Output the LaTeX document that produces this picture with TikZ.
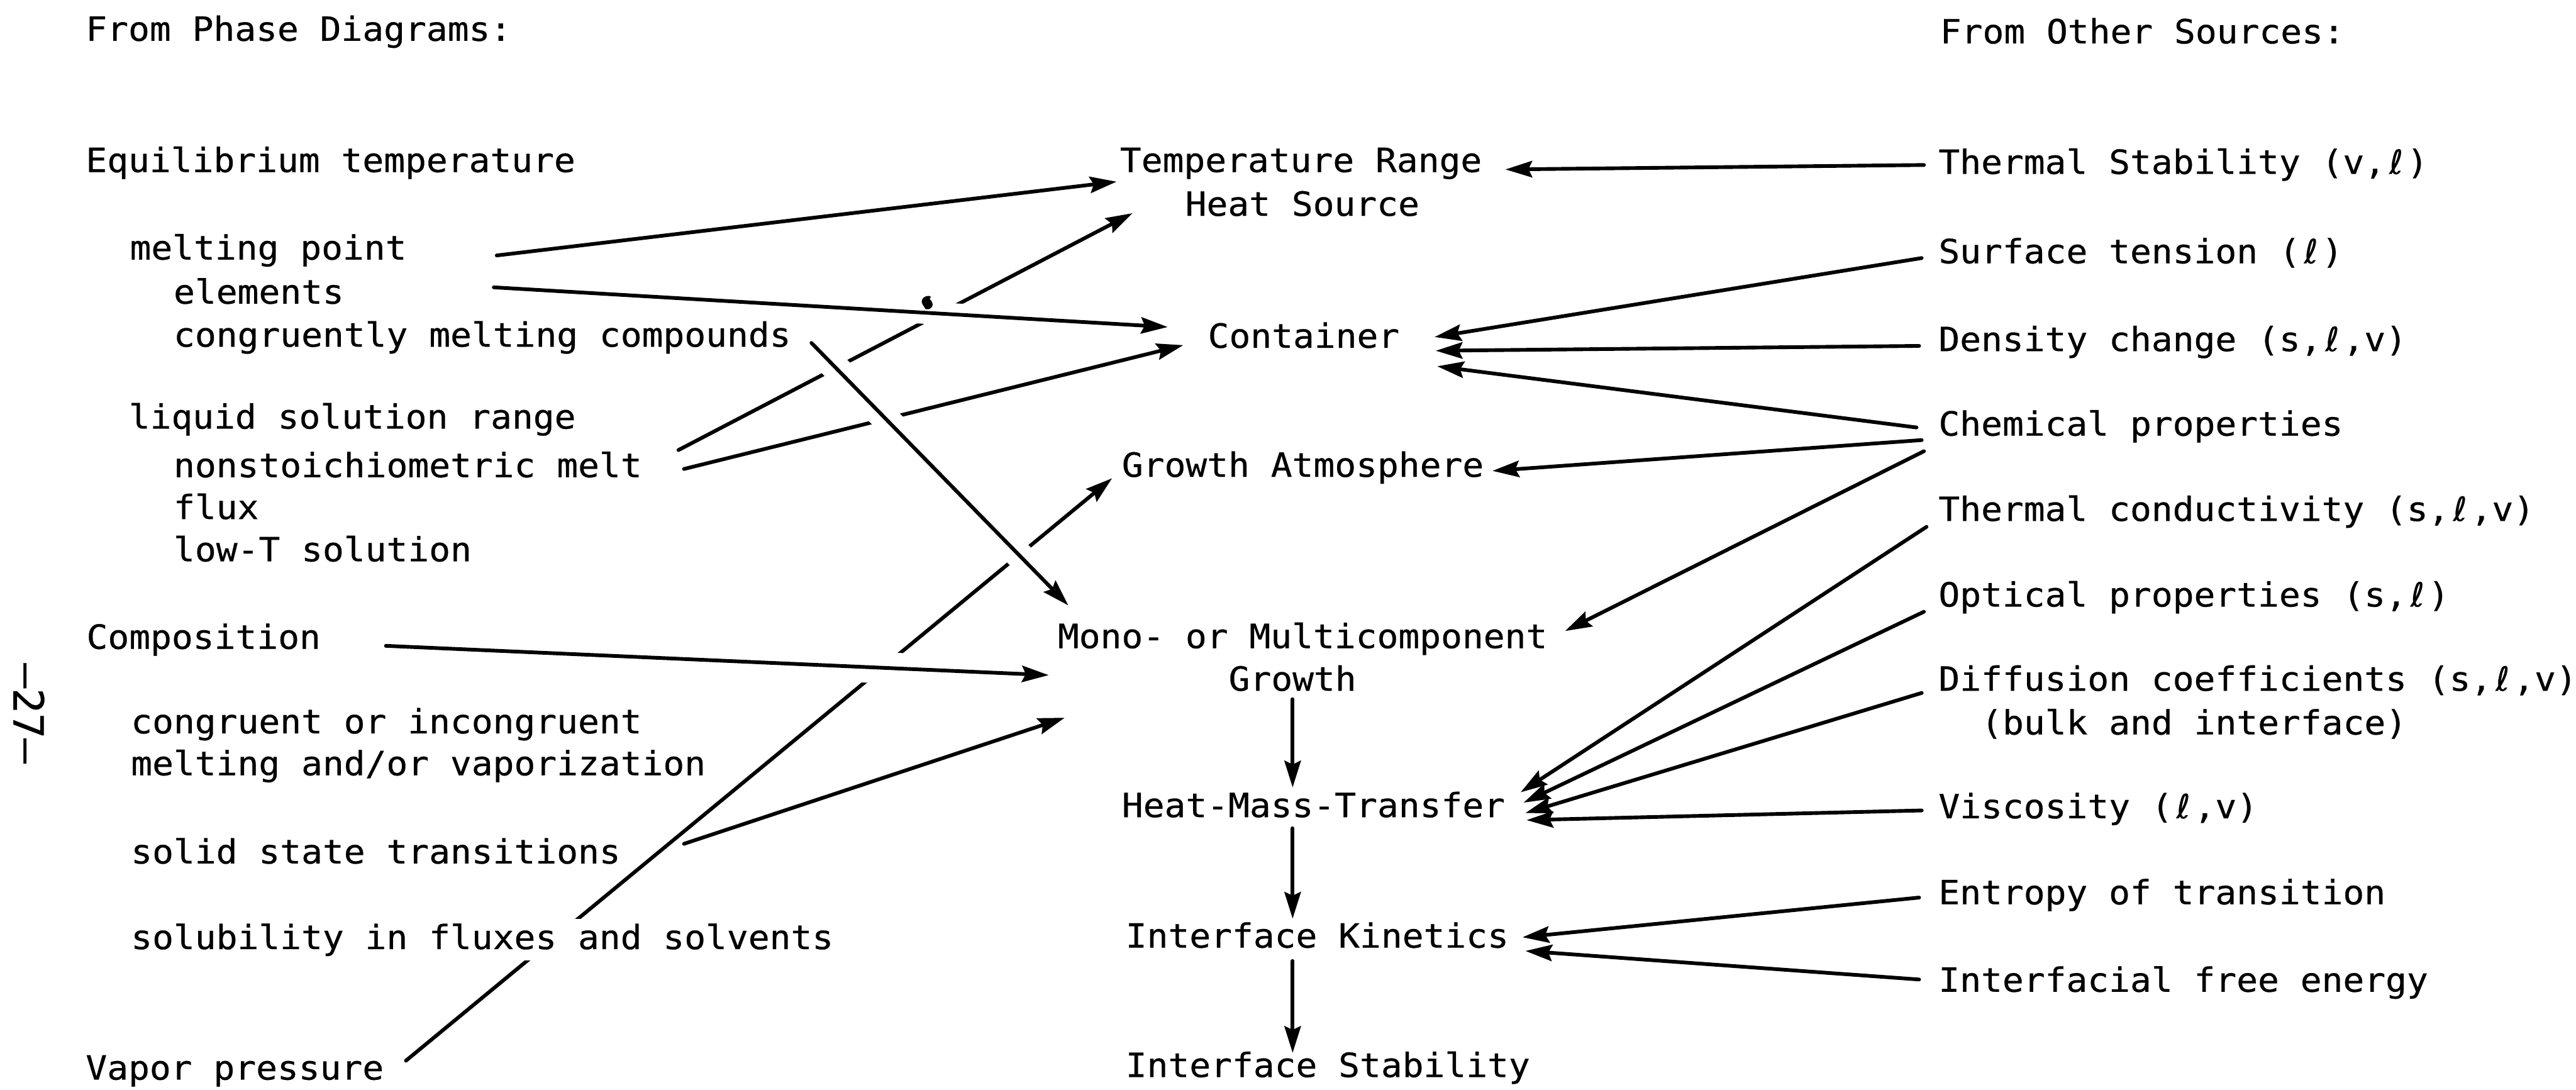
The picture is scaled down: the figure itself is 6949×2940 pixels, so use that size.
\documentclass[tikz,border=0pt]{standalone}
\usepackage{fontspec}
\usetikzlibrary{arrows.meta}
\newfontfamily\typewriter[FakeStretch=1.06,FakeBold=0.5]{DejaVu Sans Mono}
\newfontfamily\pagenofont[FakeBold=0.5]{DejaVu Sans Mono}
\newfontfamily\ellfont[FakeBold=0.5]{DejaVu Sans}
% script l set in one typewriter cell
\newcommand\ellch{\makebox[\fontcharwd\font`\s][c]{\ellfont ℓ}}
\begin{document}
\begin{tikzpicture}[x=0.05mm,y=-0.05mm,
  lbl/.style={anchor=base west,inner sep=0pt,font=\typewriter\fontsize{12.8}{15}\selectfont},
  link/.style={line width=0.5mm,line cap=round},
  arr/.style={link,-{Stealth[length=3.6mm,width=2.2mm,inset=0.5mm]}},
  bridge/.style={draw=white,line width=#1,line cap=butt,shorten <=2mm,shorten >=5mm},
]
\useasboundingbox[fill=white] (0,0) rectangle (6949,2940);

% ---------- connector end points ----------
% left column, outgoing
\coordinate (mp-o)   at (1340,689);
\coordinate (el-o)   at (1332,775);
\coordinate (cmc-o)  at (2189,925);
\coordinate (nsm-o1) at (1830,1214);
\coordinate (nsm-o2) at (1845,1265);
\coordinate (cmp-o)  at (1041,1742);
\coordinate (sst-o)  at (1845,2276);
\coordinate (vp-o)   at (1095,2861);
% central column, incoming / outgoing
\coordinate (tr-i1)  at (3012,490);
\coordinate (tr-i2)  at (4061,457);
\coordinate (hs-i)   at (3055,575);
\coordinate (ct-i1)  at (3150,882);
\coordinate (ct-i2)  at (3192,931);
\coordinate (ct-i3)  at (3870,909);
\coordinate (ct-i4)  at (3873,946);
\coordinate (ct-i5)  at (3877,988);
\coordinate (ga-i1)  at (3000,1290);
\coordinate (ga-i2)  at (4026,1270);
\coordinate (mm-i1)  at (2882,1633);
\coordinate (mm-i2)  at (2829,1821);
\coordinate (mm-i3)  at (2872,1936);
\coordinate (mm-i4)  at (4222,1702);
\coordinate (mm-s)   at (3487,1886);
\coordinate (hmt-n)  at (3487,2124);
\coordinate (hmt-s)  at (3487,2234);
\coordinate (hmt-i1) at (4102,2137);
\coordinate (hmt-i2) at (4110,2165);
\coordinate (hmt-i3) at (4115,2193);
\coordinate (hmt-i4) at (4118,2212);
\coordinate (ik-n)   at (3487,2478);
\coordinate (ik-s)   at (3487,2592);
\coordinate (ik-i1)  at (4107,2528);
\coordinate (ik-i2)  at (4115,2565);
\coordinate (is-n)   at (3487,2840);
% right column, outgoing
\coordinate (ts-o)   at (5190,445);
\coordinate (st-o)   at (5184,696);
\coordinate (dc-o)   at (5177,933);
\coordinate (cp-o1)  at (5170,1153);
\coordinate (cp-o2)  at (5184,1187);
\coordinate (cp-o3)  at (5190,1217);
\coordinate (tc-o)   at (5197,1421);
\coordinate (op-o)   at (5190,1650);
\coordinate (df-o)   at (5184,1869);
\coordinate (vs-o)   at (5184,2186);
\coordinate (en-o)   at (5177,2421);
\coordinate (if-o)   at (5177,2642);

% ---------- connectors that pass underneath ----------
\draw[arr] (mp-o)   -- (tr-i1);
\draw[arr] (nsm-o1) -- (hs-i);
\draw[arr] (nsm-o2) -- (ct-i2);
\draw[arr] (sst-o)  -- (mm-i3);
\draw[arr] (vp-o)   -- (ga-i1);

% ---------- connectors drawn over the others, with a break ----------
\draw[bridge=3mm]    (el-o)  -- (ct-i1);
\draw[bridge=3.7mm]  (cmc-o) -- (mm-i1);
\draw[bridge=4.2mm]  (cmp-o) -- (mm-i2);
\draw[arr] (el-o)  -- (ct-i1);
\draw[arr] (cmc-o) -- (mm-i1);
\draw[arr] (cmp-o) -- (mm-i2);

% stray type mark above the elements line
\fill (2505,834) -- (2497,834) .. controls (2491,824) and (2484,817) .. (2487,809)
      .. controls (2490,800) and (2504,795) .. (2511,800) -- (2508,807)
      .. controls (2518,815) and (2518,826) .. (2511,831) -- cycle;

% central chain
\draw[arr] (mm-s)  -- (hmt-n);
\draw[arr] (hmt-s) -- (ik-n);
\draw[arr] (ik-s)  -- (is-n);

% right-hand sources
\draw[arr] (ts-o)  -- (tr-i2);
\draw[arr] (st-o)  -- (ct-i3);
\draw[arr] (dc-o)  -- (ct-i4);
\draw[arr] (cp-o1) -- (ct-i5);
\draw[arr] (cp-o2) -- (ga-i2);
\draw[arr] (cp-o3) -- (mm-i4);
\draw[arr] (tc-o)  -- (hmt-i1);
\draw[arr] (op-o)  -- (hmt-i2);
\draw[arr] (df-o)  -- (hmt-i3);
\draw[arr] (vs-o)  -- (hmt-i4);
\draw[arr] (en-o)  -- (ik-i1);
\draw[arr] (if-o)  -- (ik-i2);

% ---------- left column ----------
\node[lbl] (hdl)  at (230,110)  {From Phase Diagrams:};
\node[lbl] (eqt)  at (230,464)  {Equilibrium temperature};
\node[lbl] (mp)   at (349,700)  {melting point};
\node[lbl] (el)   at (467,819)  {elements};
\node[lbl] (cmc)  at (467,935)  {congruently melting compounds};
\node[lbl] (lsr)  at (346,1156) {liquid solution range};
\node[lbl] (nsm)  at (467,1287) {nonstoichiometric melt};
\node[lbl] (flx)  at (467,1400) {flux};
\node[lbl] (lts)  at (467,1514) {low-T solution};
\node[lbl] (cmp)  at (232,1750) {Composition};
\node[lbl] (cic)  at (352,1978) {congruent or incongruent};
\node[lbl] (mav)  at (352,2091) {melting and/or vaporization};
\node[lbl] (sst)  at (352,2329) {solid state transitions};
\node[lbl,fill=white,inner ysep=0.6mm] (sfs) at (352,2560) {solubility in fluxes and solvents};
\node[lbl] (vp)   at (230,2912) {Vapor pressure};

% page number
\node[inner sep=0pt,rotate=-90,font=\pagenofont\fontsize{16}{18}\selectfont] (pg) at (78,1924) {—27—};

% ---------- central column ----------
\node[lbl] (tr)  at (3020,464)  {Temperature Range};
\node[lbl] (hs)  at (3196,582)  {Heat Source};
\node[lbl] (ct)  at (3257,938)  {Container};
\node[lbl] (ga)  at (3025,1286) {Growth Atmosphere};
\node[lbl] (mm)  at (2852,1748) {Mono- or Multicomponent};
\node[lbl] (mmg) at (3313,1863) {Growth};
\node[lbl] (hmt) at (3025,2204) {Heat-Mass-Transfer};
\node[lbl] (ik)  at (3035,2556) {Interface Kinetics};
\node[lbl] (is)  at (3035,2905) {Interface Stability};

% ---------- right column ----------
\node[lbl] (hdr) at (5232,117)  {From Other Sources:};
\node[lbl] (ts)  at (5228,469)  {Thermal Stability (v,\ellch)};
\node[lbl] (st)  at (5228,710)  {Surface tension (\ellch)};
\node[lbl] (dc)  at (5228,947)  {Density change (s,\ellch,v)};
\node[lbl] (cp)  at (5228,1175) {Chemical properties};
\node[lbl] (tc)  at (5228,1405) {Thermal conductivity (s,\ellch,v)};
\node[lbl] (op)  at (5228,1636) {Optical properties (s,\ellch)};
\node[lbl] (df)  at (5228,1863) {Diffusion coefficients (s,\ellch,v)};
\node[lbl] (dfb) at (5343,1981) {(bulk and interface)};
\node[lbl] (vs)  at (5228,2207) {Viscosity (\ellch,v)};
\node[lbl] (en)  at (5228,2439) {Entropy of transition};
\node[lbl] (if)  at (5228,2675) {Interfacial free energy};
\end{tikzpicture}
\end{document}
